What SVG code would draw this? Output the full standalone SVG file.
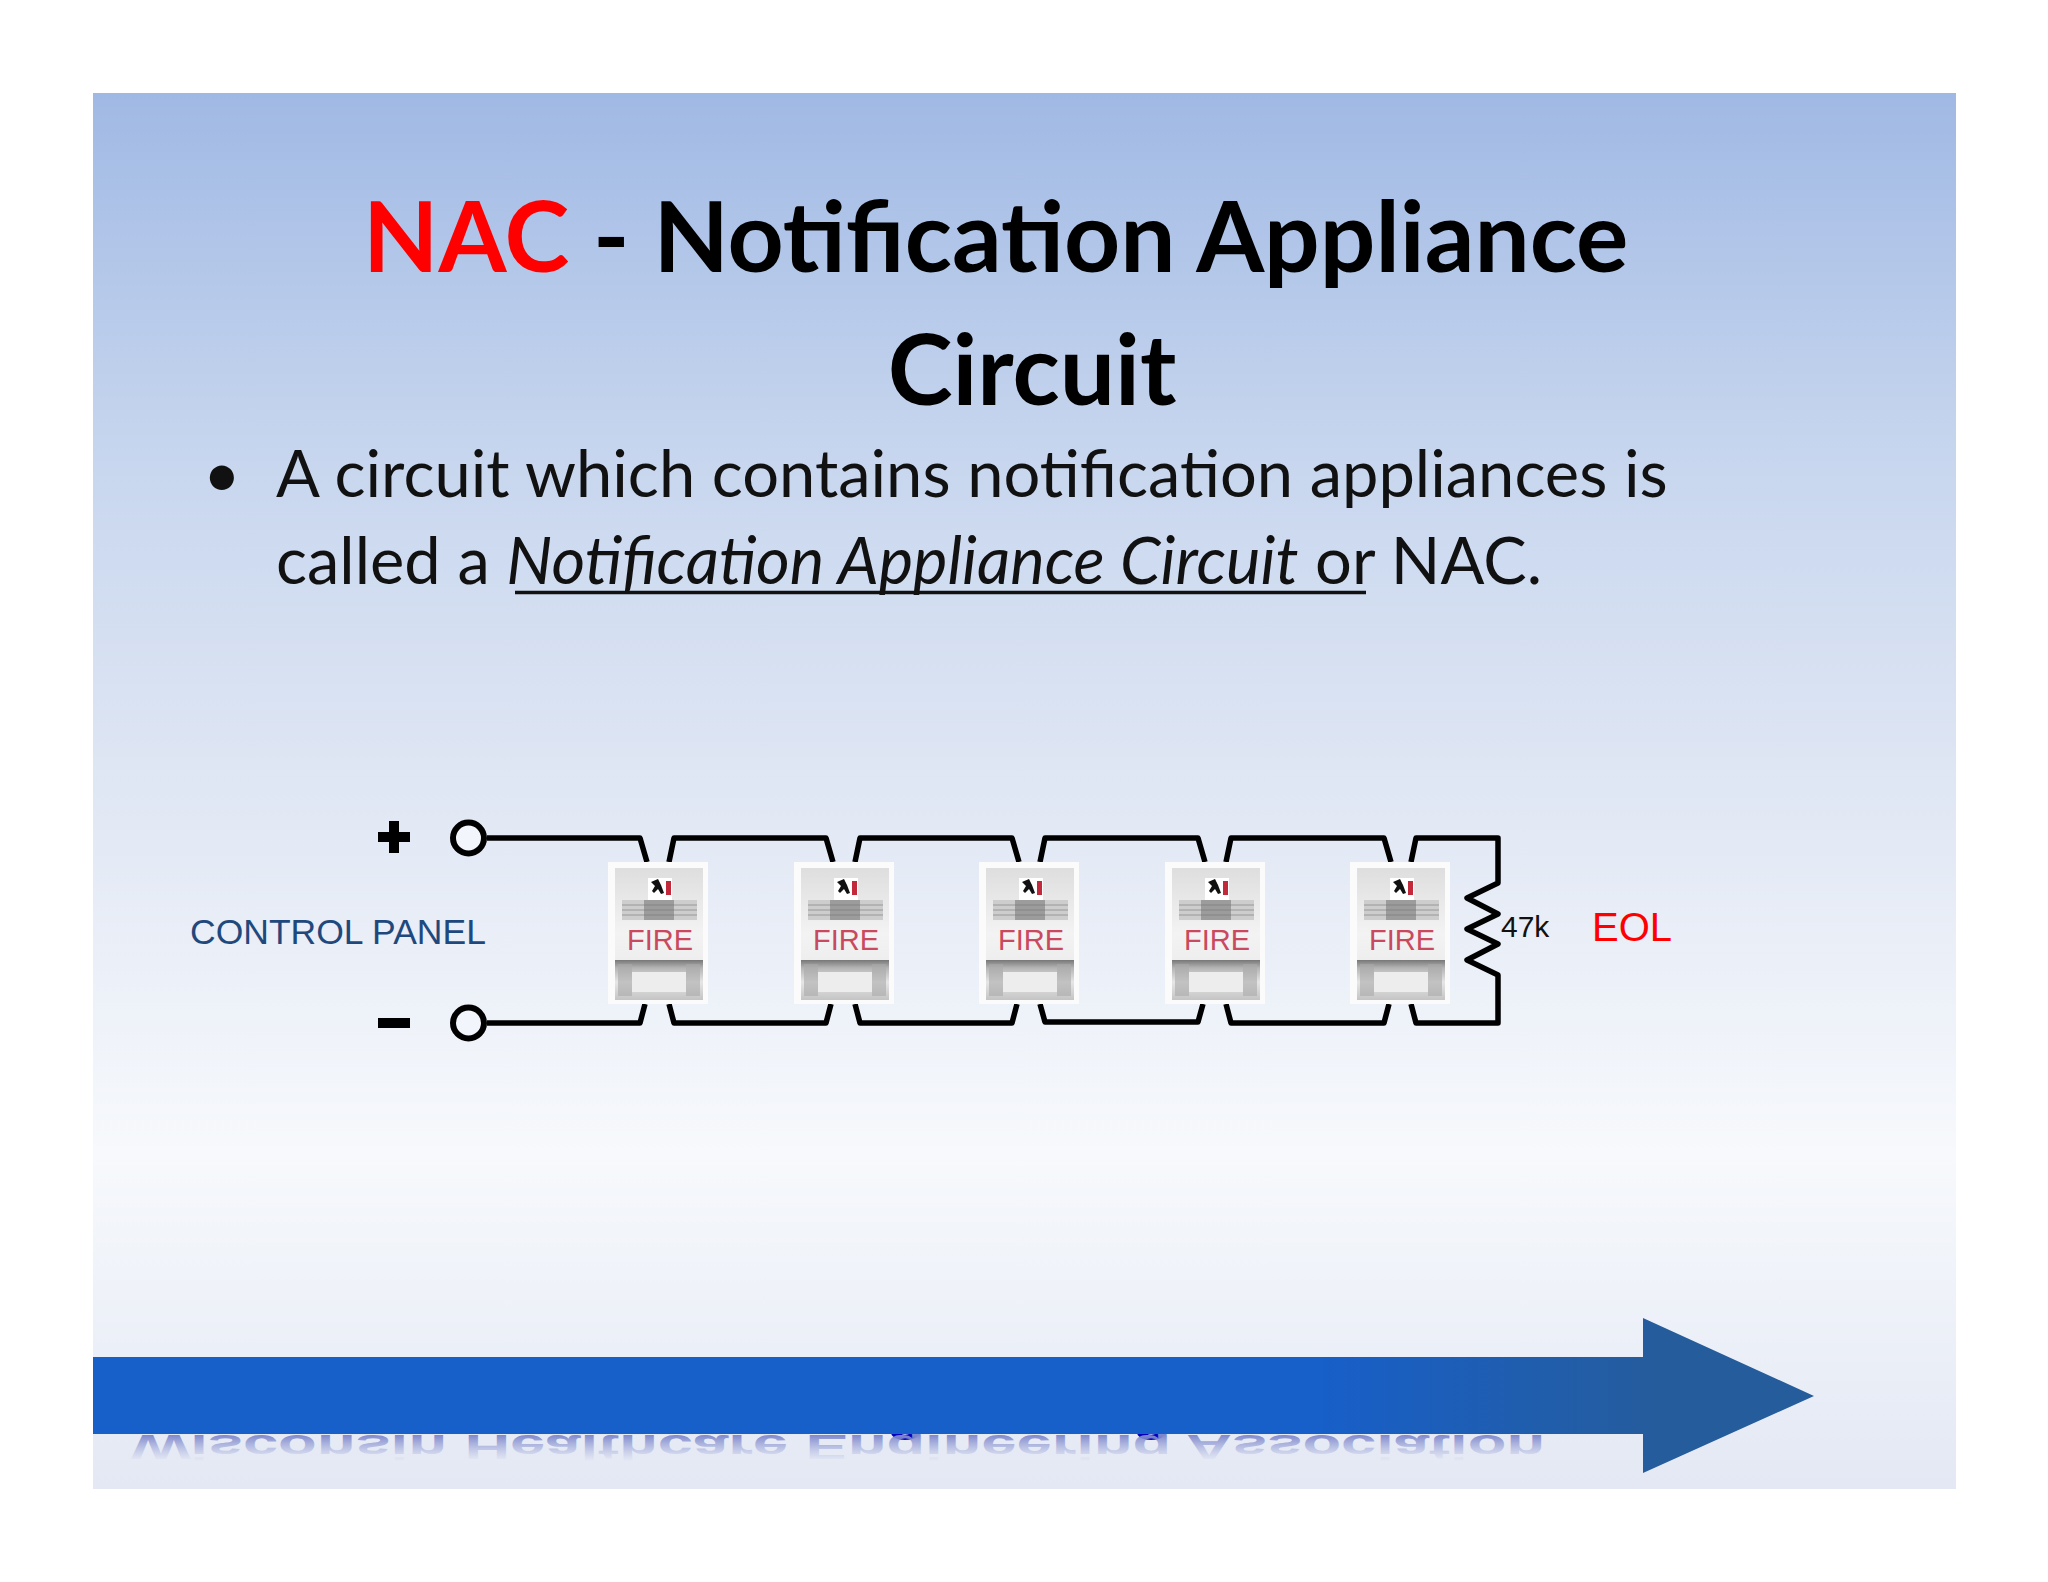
<svg xmlns="http://www.w3.org/2000/svg" width="2048" height="1582" viewBox="0 0 2048 1582">
<style>
.title{font:700 98px "Lato","Liberation Sans",sans-serif;fill:#000}
.body{font:400 65px "Lato","Liberation Sans",sans-serif;fill:#111}
.lab{font-family:"Liberation Sans",Arial,sans-serif}
.wire{fill:none;stroke:#000;stroke-width:5.5;stroke-linejoin:round}
.fire{font:400 29px "Liberation Sans",Arial,sans-serif;fill:#c9495f;text-anchor:middle}
.term{fill:#f2f5fb;stroke:#000;stroke-width:6}
</style>
<defs>
<linearGradient id="bg" x1="0" y1="0" x2="0" y2="1">
<stop offset="0" stop-color="#a0b9e4"/><stop offset=".25" stop-color="#c6d5ee"/><stop offset=".5" stop-color="#e0e7f4"/><stop offset=".76" stop-color="#f7f9fc"/><stop offset="1" stop-color="#e3e8f4"/>
</linearGradient>
<linearGradient id="arrow" gradientUnits="userSpaceOnUse" x1="1320" y1="0" x2="1660" y2="0">
<stop offset="0" stop-color="#175fc9"/><stop offset="1" stop-color="#255c9c"/>
</linearGradient>
<linearGradient id="refl" gradientUnits="userSpaceOnUse" x1="0" y1="0" x2="0" y2="-44">
<stop offset="0" stop-color="#7f88cc"/><stop offset="1" stop-color="#a8b2dc" stop-opacity="0"/>
</linearGradient>
<linearGradient id="body" x1="0" y1="0" x2="0" y2="1">
<stop offset="0" stop-color="#dedede"/><stop offset=".5" stop-color="#f3f3f3"/><stop offset="1" stop-color="#e6e6e6"/>
</linearGradient>
<linearGradient id="lens" x1="0" y1="0" x2="0" y2="1">
<stop offset="0" stop-color="#777"/><stop offset=".2" stop-color="#b5b5b5"/><stop offset=".55" stop-color="#e6e6e6"/><stop offset="1" stop-color="#c4c4c4"/>
</linearGradient>
<g id="dev">
<rect x="0" y="0" width="100" height="142" fill="#fbfbfb"/>
<rect x="7" y="6" width="88" height="132" fill="url(#body)"/>
<rect x="40" y="16" width="24" height="22" fill="#fff"/>
<path d="M43 20l7-3 3 6 3 8-3 1-3-5-4 4-2-2 3-5z" fill="#111"/>
<rect x="58" y="19" width="5" height="14" fill="#c22a3c"/>
<rect x="14" y="38" width="75" height="20" fill="#cdcdcd"/>
<rect x="36" y="38" width="30" height="20" fill="#9c9c9c"/>
<path d="M14 43h75M14 48h75M14 53h75" stroke="#777" stroke-width="1" opacity=".6"/>
<rect x="7" y="98" width="88" height="40" fill="url(#lens)"/>
<rect x="24" y="110" width="54" height="20" fill="#ededed"/>
<rect x="10" y="102" width="14" height="32" fill="#aaa" opacity=".6"/>
<rect x="78" y="102" width="14" height="32" fill="#aaa" opacity=".6"/>
</g>
</defs>
<rect width="2048" height="1582" fill="#fff"/>
<rect id="slide" x="93" y="93" width="1863" height="1396" fill="url(#bg)"/>
<g id="title">
<text class="title" x="363" y="272"><tspan fill="#f00">NAC</tspan> - Notification Appliance</text>
<text class="title" x="1032" y="405" text-anchor="middle">Circuit</text>
</g>
<g id="bullet">
<text class="body" x="203" y="497">•</text>
<text class="body" x="276" y="497">A circuit which contains notification appliances is</text>
<text class="body" x="276" y="584">called a <tspan font-style="italic">Notification Appliance Circuit</tspan> or NAC.</text>
<path d="M515 592.500H1366" stroke="#111" stroke-width="3.500"/>
</g>
<g id="connectors">
<path class="wire" d="M487 838H640L647 862"/>
<path class="wire" d="M487 1023H640L645 1004"/>
<path class="wire" d="M669 862L674 838H826L833 862"/>
<path class="wire" d="M669 1004L674 1023H826L831 1004"/>
<path class="wire" d="M855 862L860 838H1012L1019 862"/>
<path class="wire" d="M855 1004L860 1023H1012L1017 1004"/>
<path class="wire" d="M1040 862L1045 838H1198L1205 862"/>
<path class="wire" d="M1040 1004L1045 1022H1198L1203 1004"/>
<path class="wire" d="M1226 862L1231 838H1384L1391 862"/>
<path class="wire" d="M1226 1004L1231 1023H1384L1389 1004"/>
<path class="wire" d="M1411 862L1416 838H1498V883L1467 898L1498 914L1467 929L1498 944L1467 960L1498 975V1023H1416L1411 1004"/>
</g>
<g id="plus-terminal">
<path d="M378 837H410M394 821V853" stroke="#000" stroke-width="10" fill="none"/>
<circle class="term" cx="468.500" cy="838" r="15.500"/>
</g>
<g id="minus-terminal">
<path d="M378 1023H410" stroke="#000" stroke-width="10" fill="none"/>
<circle class="term" cx="468.500" cy="1023" r="15.500"/>
</g>
<text id="control-panel" class="lab" x="190" y="944" font-size="35.500" fill="#1f497d">CONTROL PANEL</text>
<g id="device-1"><use href="#dev" x="608" y="862"/><text class="fire" x="660" y="950">FIRE</text></g>
<g id="device-2"><use href="#dev" x="794" y="862"/><text class="fire" x="846" y="950">FIRE</text></g>
<g id="device-3"><use href="#dev" x="979" y="862"/><text class="fire" x="1031" y="950">FIRE</text></g>
<g id="device-4"><use href="#dev" x="1165" y="862"/><text class="fire" x="1217" y="950">FIRE</text></g>
<g id="device-5"><use href="#dev" x="1350" y="862"/><text class="fire" x="1402" y="950">FIRE</text></g>
<text id="resistor-value" class="lab" x="1501" y="937" font-size="30" fill="#111">47k</text>
<text id="eol" class="lab" x="1592" y="941" font-size="40" fill="#f00">EOL</text>
<g id="footer">
<text class="lab" x="131" y="1428" font-size="58" font-weight="700" fill="#0000c0" textLength="1414" lengthAdjust="spacingAndGlyphs">Wisconsin Healthcare Engineering Association</text>
<text class="lab" transform="translate(0 1435) scale(1 -0.6)" x="131" y="0" font-size="58" font-weight="700" fill="url(#refl)" textLength="1414" lengthAdjust="spacingAndGlyphs">Wisconsin Healthcare Engineering Association</text>
<path id="arrow-shape" d="M93 1357H1643V1318L1814 1396L1643 1473V1434H93Z" fill="url(#arrow)"/>
</g>
</svg>
